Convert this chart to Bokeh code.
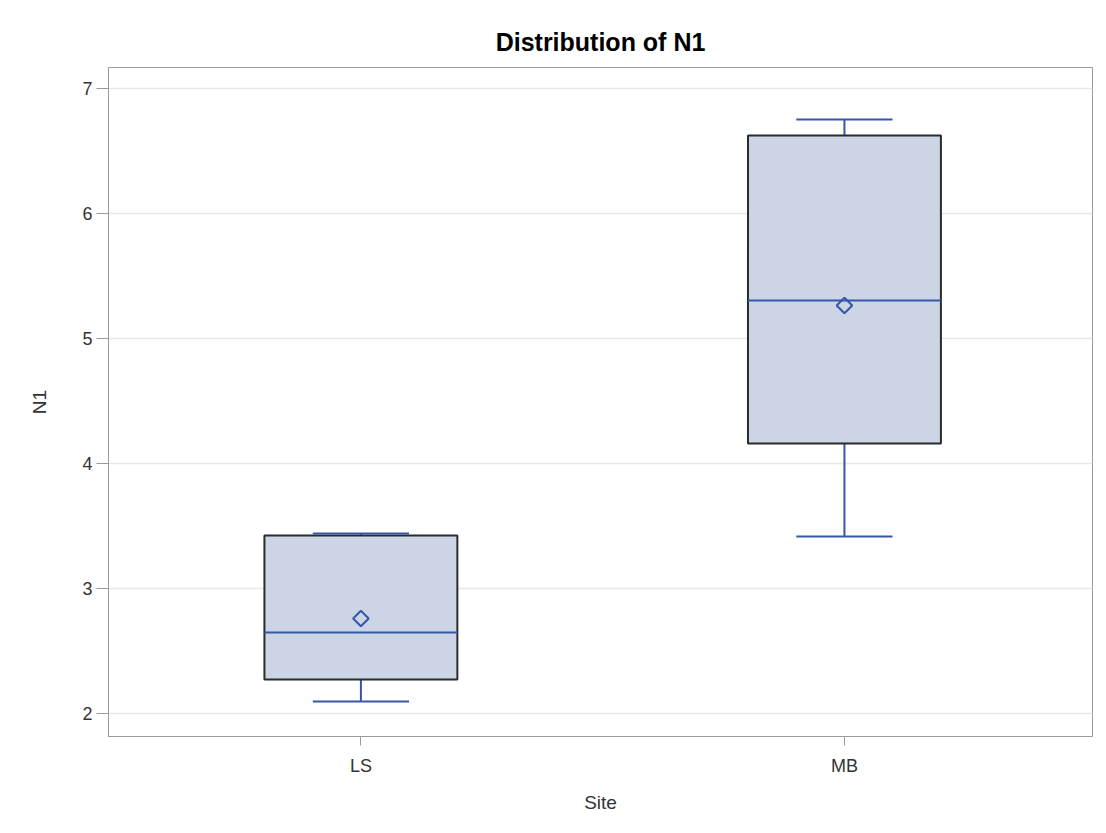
from bokeh.plotting import figure
from bokeh.models import ColumnDataSource, Range1d, FixedTicker
from bokeh.embed import file_html
from bokeh.resources import INLINE

# Data
sites = ["LS", "MB"]
whisker_min = [2.096, 3.416]
q1 = [2.272, 4.16]
median = [2.648, 5.304]
q3 = [3.424, 6.624]
whisker_max = [3.44, 6.752]
mean = [2.76, 5.264]
y_ticks = [2, 3, 4, 5, 6, 7]

BOX_W = 0.399
CAP_W = 0.199

xpos = [i + 0.5 for i in range(len(sites))]
src = ColumnDataSource(dict(x=xpos, site=sites, lo=whisker_min, q1=q1, med=median,
                            q3=q3, hi=whisker_max, mean=mean,
                            cl=[x - CAP_W / 2 for x in xpos], cr=[x + CAP_W / 2 for x in xpos],
                            bl=[x - BOX_W / 2 for x in xpos], br=[x + BOX_W / 2 for x in xpos]))

FONT = "Liberation Sans"
BLUE = "#3656A8"

p = figure(width=1098, height=825, x_range=Range1d(-0.022, 2.013),
           y_range=Range1d(1.816, 7.168), output_backend="svg", toolbar_location=None,
           title="Distribution of N1", min_border_left=108, min_border_right=6,
           min_border_top=67, min_border_bottom=89)

p.title.align = "center"
p.title.text_font = FONT
p.title.text_font_size = "25px"
p.title.text_font_style = "bold"
p.title.text_color = "#000000"
p.title.standoff = 23

p.outline_line_color = "#9a9a9a"
p.outline_line_width = 1
p.xgrid.grid_line_color = None
p.ygrid.grid_line_color = "#e8e8e8"
p.ygrid.grid_line_width = 1.5
p.yaxis.ticker = FixedTicker(ticks=y_ticks)
p.xaxis.ticker = FixedTicker(ticks=xpos)
p.xaxis.major_label_overrides = {x: s for x, s in zip(xpos, sites)}

for ax in (p.xaxis[0], p.yaxis[0]):
    ax.axis_line_color = "#9a9a9a"
    ax.major_tick_line_color = "#9a9a9a"
    ax.minor_tick_line_color = None
    ax.major_tick_in = 0
    ax.major_label_text_font = FONT
    ax.major_label_text_font_size = "18px"
    ax.major_label_text_color = "#333333"
    ax.axis_label_text_font = FONT
    ax.axis_label_text_font_size = "19px"
    ax.axis_label_text_font_style = "normal"
    ax.axis_label_text_color = "#333333"

p.yaxis.major_tick_out = 12
p.xaxis.major_tick_out = 9
p.yaxis.axis_label = "N1"
p.xaxis.axis_label = "Site"
p.yaxis.major_label_standoff = 4
p.xaxis.major_label_standoff = 10
p.yaxis.axis_label_standoff = 29
p.xaxis.axis_label_standoff = 13

# whiskers
p.segment(x0="x", y0="q3", x1="x", y1="hi", source=src, line_color=BLUE, line_width=2)
p.segment(x0="x", y0="q1", x1="x", y1="lo", source=src, line_color=BLUE, line_width=2)
# boxes
p.vbar(x="x", top="q3", bottom="q1", width=BOX_W, source=src,
       fill_color="#CBD5E5", line_color="#2b2b2b", line_width=2)
# caps
p.segment(x0="cl", y0="hi", x1="cr", y1="hi", source=src, line_color=BLUE, line_width=2)
p.segment(x0="cl", y0="lo", x1="cr", y1="lo", source=src, line_color=BLUE, line_width=2)
# median
p.segment(x0="bl", y0="med", x1="br", y1="med", source=src, line_color=BLUE, line_width=2)
# mean
p.scatter(x="x", y="mean", source=src, marker="square", angle=0.785398, size=11,
          fill_color=None, line_color=BLUE, line_width=2)

open("out.html", "w").write(file_html(p, INLINE))
